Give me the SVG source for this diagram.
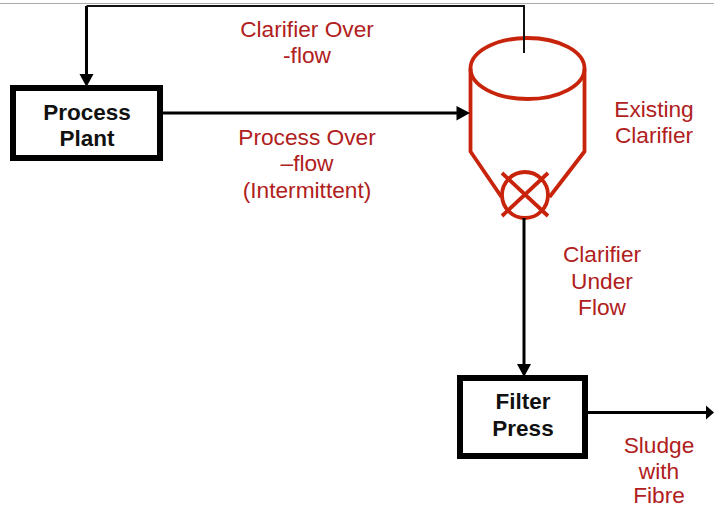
<svg xmlns="http://www.w3.org/2000/svg" width="714" height="507" viewBox="0 0 714 507">
<style>
.lbl{font-family:"Liberation Sans",Arial,sans-serif;font-size:22.700px;fill:#b0201c;text-anchor:middle}
.nt{font-family:"Liberation Sans",Arial,sans-serif;font-size:22.500px;font-weight:bold;fill:#111;text-anchor:middle}
.box{fill:#fff;stroke:#000;stroke-width:6}
.con{fill:none;stroke:#000;stroke-width:3}
.thin{fill:none;stroke:#111;stroke-width:2}
.red{fill:none;stroke:#c8240c;stroke-width:3.800}
.ah{fill:#000;stroke:none}
</style>
<rect width="714" height="507" fill="#fff"/>
<line x1="0" y1="3.500" x2="714" y2="3.500" stroke="#aaa" stroke-width="1"/>
<g id="clarifier">
<ellipse cx="527.500" cy="68.500" rx="57" ry="30.500" class="red"/>
<path d="M470.500 68.500V151.500L501.500 197M584.500 68.500V151.500L549.500 197" class="red"/>
<circle cx="525" cy="195" r="23" class="red"/>
<path d="M502 173L548 216M548 173L502 216" class="red"/>
</g>
<g id="connectors">
<path d="M524 53V6H86.500" class="thin"/>
<path d="M86.500 6V75" class="con"/>
<path class="ah" d="M79.500 74H93.500L86.500 87Z"/>
<path d="M161 113H458" class="con"/>
<path class="ah" d="M456.500 106V120.500L470 113Z"/>
<path d="M524 218V365" class="con"/>
<path class="ah" d="M517 364H531L524 377Z"/>
<path d="M586 412.500H706" class="con"/>
<path class="ah" d="M706 405.500V419.500L714 412.500Z"/>
</g>
<g id="process-plant">
<rect x="13" y="88" width="147" height="70" class="box"/>
<text x="87" y="120" class="nt">Process</text>
<text x="87" y="146" class="nt">Plant</text>
</g>
<g id="filter-press">
<rect x="460" y="378" width="125" height="78" class="box"/>
<text x="523" y="409" class="nt">Filter</text>
<text x="523" y="436" class="nt">Press</text>
</g>
<g id="labels">
<text x="307" y="37" class="lbl">Clarifier Over</text>
<text x="307" y="63" class="lbl">-flow</text>
<text x="307" y="145" class="lbl">Process Over</text>
<text x="307" y="171" class="lbl">–flow</text>
<text x="307" y="198" class="lbl">(Intermittent)</text>
<text x="654" y="117" class="lbl">Existing</text>
<text x="654" y="143" class="lbl">Clarifier</text>
<text x="602" y="262" class="lbl">Clarifier</text>
<text x="602" y="289" class="lbl">Under</text>
<text x="602" y="315" class="lbl">Flow</text>
<text x="659" y="453" class="lbl">Sludge</text>
<text x="659" y="479" class="lbl">with</text>
<text x="659" y="503" class="lbl">Fibre</text>
</g>
</svg>
